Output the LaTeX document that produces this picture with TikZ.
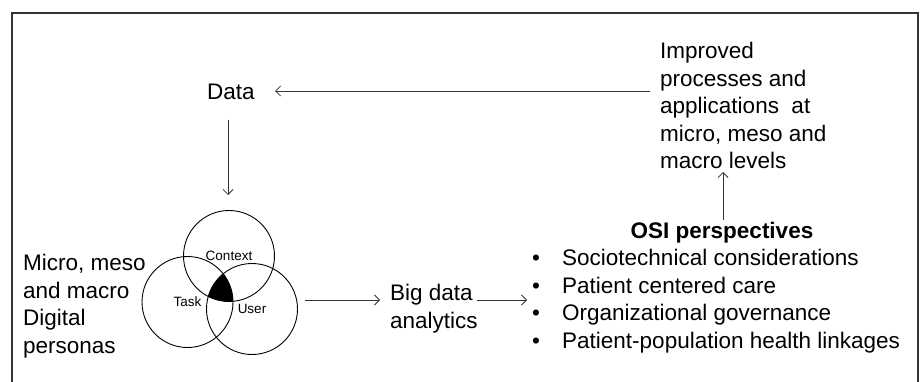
\documentclass[tikz,border=0pt]{standalone}
\usepackage{fontspec}
\setmainfont{Liberation Sans}
\usetikzlibrary{arrows.meta,calc}
\begin{document}
\begin{tikzpicture}[x=1pt,y=-1pt,
  txt/.style={inner sep=0pt,font=\fontsize{22.5}{27.5}\selectfont,align=left},
  conn/.style={draw=black!80,line width=0.8pt,-{Straight Barb[length=5pt,width=10pt,line width=0.8pt]}},
  venn/.style={circle,draw=black,line width=0.9pt,minimum size=91pt,inner sep=0pt,font=\fontsize{13.5}{15}\selectfont}]
\useasboundingbox (0,0) rectangle (920,382);
\draw[black!80,line width=1.5pt] (12,382) -- (12,13) -- (918,13) -- (918,382);
% nodes
\node[txt,anchor=north west] (imp) at (660,42) {Improved\\processes and\\applications\ \ at\\micro, meso and\\macro levels};
\node[txt,anchor=north] (data) at (231,84) {Data};
\node[txt,anchor=north west] (pers) at (23,254) {Micro, meso\\and macro\\Digital\\personas};
% venn
\node[venn] (ctx) at (229,256) {Context};
\node[venn] (task) at (187.5,302) {Task};
\node[venn] (user) at (252,309) {User};
\begin{scope}
\clip (ctx.center) circle[radius=45.5pt];
\clip (task.center) circle[radius=45.5pt];
\fill[black] (user.center) circle[radius=45.5pt];
\end{scope}
\node[txt,anchor=north west] (big) at (390,284) {Big data\\analytics};
\node[txt,anchor=north,font=\fontsize{22.5}{27.5}\selectfont\bfseries] (osi) at (722,222) {OSI perspectives};
\node[txt,anchor=north west] (list) at (532,249) {\makebox[30pt][l]{•}Sociotechnical considerations\\\makebox[30pt][l]{•}Patient centered care\\\makebox[30pt][l]{•}Organizational governance\\\makebox[30pt][l]{•}Patient-population health linkages};
% connector ends
\coordinate (impL) at (650,91);
\coordinate (dataR) at (275,91);
\coordinate (dataB) at (228,120);
\coordinate (ctxT) at (228,195);
\coordinate (vennR) at (305,300);
\coordinate (bigL) at (380,300);
\coordinate (bigR) at (477,300);
\coordinate (listL) at (527,300);
\coordinate (osiT) at (723,220);
\coordinate (impB) at (723,172);
% connectors
\draw[conn] (impL) -- (dataR);
\draw[conn] (dataB) -- (ctxT);
\draw[conn] (vennR) -- (bigL);
\draw[conn] (bigR) -- (listL);
\draw[conn] (osiT) -- (impB);
\end{tikzpicture}
\end{document}
